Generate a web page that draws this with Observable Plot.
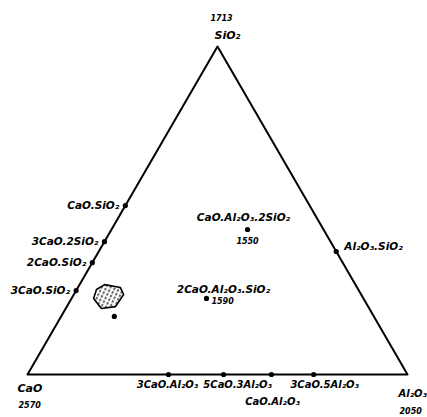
<!DOCTYPE html>
<html><head><meta charset="utf-8">
<script src="https://cdn.jsdelivr.net/npm/d3@7"></script>
<script src="https://cdn.jsdelivr.net/npm/@observablehq/plot@0.6"></script>
<style>body{margin:0;background:#fff}</style>
</head><body><div id="chart"></div>
<script>
// Ternary system CaO – Al2O3 – SiO2 (weight fractions)
const vertexNames = ["CaO", "Al₂O₃", "SiO₂"];
const vertexMelt  = ["2570", "2050", "1713"];
const vertexSiO2  = [0, 0, 1];
const vertexAl2O3 = [0, 1, 0];

// binary compounds CaO–SiO2 (left edge)
const leftNames = ["CaO.SiO₂", "3CaO.2SiO₂", "2CaO.SiO₂", "3CaO.SiO₂"];
const leftSiO2  = [0.515, 0.405, 0.341, 0.256];

// binary compounds CaO–Al2O3 (bottom edge)
const bottomNames = ["3CaO.Al₂O₃", "5CaO.3Al₂O₃", "CaO.Al₂O₃", "3CaO.5Al₂O₃"];
const bottomAl2O3 = [0.371, 0.516, 0.642, 0.753];

// binary compound Al2O3–SiO2 (right edge)
const rightNames = ["Al₂O₃.SiO₂"];
const rightSiO2  = [0.375];

// ternary compounds with melting points
const ternNames = ["CaO.Al₂O₃.2SiO₂", "2CaO.Al₂O₃.SiO₂"];
const ternMelt  = ["1550", "1590"];
const ternSiO2  = [0.442, 0.232];
const ternAl2O3 = [0.358, 0.355];

// hatched region and point
const regionSiO2  = [0.259, 0.274, 0.265, 0.244, 0.207, 0.201, 0.232];
const regionAl2O3 = [0.052, 0.066, 0.112, 0.131, 0.128, 0.094, 0.058];
const pointSiO2  = [0.177];
const pointAl2O3 = [0.140];

const S3 = Math.sqrt(3) / 2;
const tx = d => d.al + d.si / 2;
const ty = d => d.si * S3;
const mk = (si, al, extra = {}) => si.map((s, i) => ({si: s, al: al[i], ...Object.fromEntries(Object.entries(extra).map(([k, v]) => [k, v[i]]))}));

const vertices = mk(vertexSiO2, vertexAl2O3, {name: vertexNames, melt: vertexMelt});
const triangle = [...vertices, vertices[0]];
const left = mk(leftSiO2, leftSiO2.map(() => 0), {name: leftNames});
const bottom = mk(bottomAl2O3.map(() => 0), bottomAl2O3, {name: bottomNames});
const right = mk(rightSiO2, rightSiO2.map(s => 1 - s), {name: rightNames});
const tern = mk(ternSiO2, ternAl2O3, {name: ternNames, melt: ternMelt});
const region = mk(regionSiO2, regionAl2O3);
const regionClosed = [...region, region[0]];
const point = mk(pointSiO2, pointAl2O3);

const font = {fontFamily: "DejaVu Sans, sans-serif", fontStyle: "italic", fontWeight: "bold", fill: "black"};
const lab = (data, opts) => Plot.text(data, {x: tx, y: ty, text: "name", fontSize: 10.5, ...font, ...opts});
const melt = (data, opts) => Plot.text(data, {x: tx, y: ty, text: "melt", fontSize: 8, ...font, ...opts});

const chart = Plot.plot({
  width: 427, height: 417,
  marginLeft: 27, marginRight: 20, marginTop: 46, marginBottom: 43,
  x: {domain: [0, 1], axis: null},
  y: {domain: [0, S3], axis: null},
  style: {background: "white"},
  marks: [
    Plot.line(regionClosed, {x: tx, y: ty, stroke: "black", strokeWidth: 1.6, fill: "url(#hatch)"}),
    Plot.line(triangle, {x: tx, y: ty, stroke: "black", strokeWidth: 2}),
    Plot.dot([...left, ...bottom, ...right, ...tern, ...point], {x: tx, y: ty, r: 2.6, fill: "black"}),
    lab(left, {textAnchor: "end", dx: -6}),
    lab(right, {textAnchor: "start", dx: 8, dy: -5}),
    lab([bottom[0]], {fontSize: 10, dx: -1, dy: 10}),
    lab([bottom[1]], {fontSize: 10, dx: 14, dy: 10}),
    lab([bottom[2]], {fontSize: 10, dx: 1, dy: 27}),
    lab([bottom[3]], {fontSize: 10, dx: 11, dy: 10}),
    lab([tern[0]], {dx: -4, dy: -12}),
    lab([tern[1]], {dx: 17, dy: -9}),
    melt([tern[0]], {dy: 12}),
    melt([tern[1]], {textAnchor: "start", dx: 5, dy: 3}),
    lab([vertices[0]], {textAnchor: "start", dx: -10, dy: 14, fontSize: 11}),
    lab([vertices[1]], {textAnchor: "start", dx: -9, dy: 19, fontSize: 10}),
    lab([vertices[2]], {dx: 10, dy: -11, fontSize: 11}),
    melt([vertices[0]], {textAnchor: "start", dx: -9, dy: 31}),
    melt([vertices[1]], {textAnchor: "start", dx: -8, dy: 37}),
    melt([vertices[2]], {dx: 4, dy: -28})
  ]
});
chart.insertAdjacentHTML("afterbegin",
  '<defs><pattern id="hatch" patternUnits="userSpaceOnUse" width="4" height="4" patternTransform="rotate(25)">' +
  '<line x1="1" y1="0" x2="1" y2="4" stroke="black" stroke-width="1.2" stroke-dasharray="2.5 1.5"/></pattern></defs>');
document.getElementById("chart").append(chart);
</script>
</body></html>
